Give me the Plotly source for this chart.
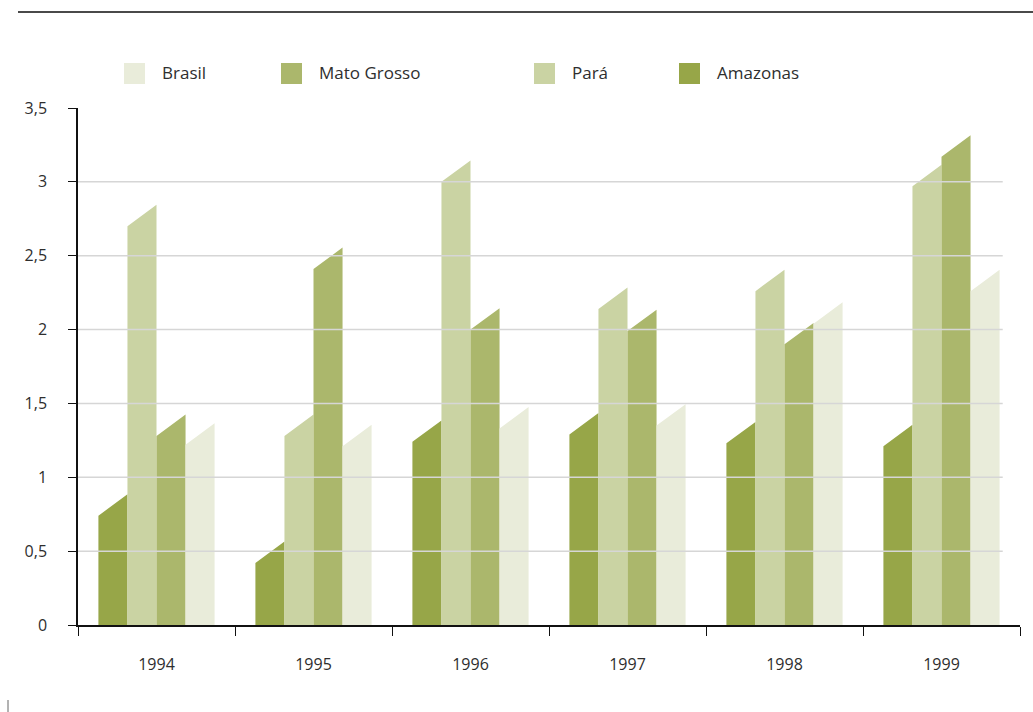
import plotly.graph_objects as go

# Annual values per state, 1994-1999
years = ["1994", "1995", "1996", "1997", "1998", "1999"]
amazonas = [0.74, 0.42, 1.24, 1.29, 1.23, 1.21]
para = [2.70, 1.28, 3.00, 2.14, 2.26, 2.97]
mato_grosso = [1.28, 2.41, 2.00, 1.99, 1.90, 3.17]
brasil = [1.22, 1.21, 1.33, 1.35, 2.04, 2.26]

y_ticks = [0, 0.5, 1, 1.5, 2, 2.5, 3, 3.5]
y_tick_text = ["0", "0,5", "1", "1,5", "2", "2,5", "3", "3,5"]

# Drawing order inside each year group (left to right)
series = [
    ("Amazonas", amazonas, "#97A648"),
    ("Pará", para, "#CAD3A3"),
    ("Mato Grosso", mato_grosso, "#ABB76C"),
    ("Brasil", brasil, "#E9ECDA"),
]
legend_order = ["Brasil", "Mato Grosso", "Pará", "Amazonas"]
colors = {name: c for name, _, c in series}

BAR_W = 0.185      # width of a single bar in category units
GROUP_START = -0.37  # left edge of the group relative to category centre
SLANT = 0.145      # rise of the bevelled top edge, in value units

W, H = 1033, 712
ML, MR, MT, MB = 78, 13, 108, 87
PW, PH = W - ML - MR, H - MT - MB


def px_x(px):
    return (px - ML) / PW


def px_y(py):
    return (H - MB - py) / PH


fig = go.Figure()

for i, (name, vals, color) in enumerate(series):
    xs, ys = [], []
    for j, v in enumerate(vals):
        x0 = j + GROUP_START + i * BAR_W
        x1 = x0 + BAR_W
        xs += [x0, x0, x1, x1, x0, None]
        ys += [0, v, v + SLANT, 0, 0, None]
    fig.add_trace(go.Scatter(
        x=xs, y=ys, mode="lines", fill="toself", fillcolor=color,
        line=dict(width=0, color=color), name=name, showlegend=False,
        hoverinfo="skip",
    ))

shapes = []
# Horizontal grid, drawn over the bars
for t in y_ticks[1:-1]:
    shapes.append(dict(type="line", xref="x", yref="y", x0=-0.5, x1=5.39,
                       y0=t, y1=t, layer="above",
                       line=dict(color="#D6D6D6", width=1.5)))

# Rule across the top of the figure
shapes.append(dict(type="line", xref="paper", yref="paper",
                   x0=px_x(18), x1=px_x(1033), y0=px_y(12), y1=px_y(12),
                   line=dict(color="#4A4A4A", width=2)))
# Small mark at the lower left
shapes.append(dict(type="line", xref="paper", yref="paper",
                   x0=px_x(8), x1=px_x(8), y0=px_y(700), y1=px_y(712),
                   line=dict(color="#666666", width=1)))

annotations = []
legend_px = {"Brasil": 124, "Mato Grosso": 281, "Pará": 534, "Amazonas": 679}
for name in legend_order:
    lx = legend_px[name]
    shapes.append(dict(type="rect", xref="paper", yref="paper",
                       x0=px_x(lx), x1=px_x(lx + 21),
                       y0=px_y(84), y1=px_y(63),
                       fillcolor=colors[name], line=dict(width=0)))
    annotations.append(dict(xref="paper", yref="paper", x=px_x(lx + 36),
                            y=px_y(73), text=name, showarrow=False,
                            xanchor="left", yanchor="middle",
                            font=dict(size=17, color="#2E2E2E")))

fig.update_layout(
    width=W, height=H,
    margin=dict(l=ML, r=MR, t=MT, b=MB, pad=0),
    paper_bgcolor="white", plot_bgcolor="white",
    font=dict(family="Open Sans, Noto Sans, sans-serif", size=16, color="#2E2E2E"),
    showlegend=False,
    shapes=shapes,
    annotations=annotations,
    xaxis=dict(
        range=[-0.5, 5.5], showgrid=False, zeroline=False,
        showline=True, linecolor="#111111", linewidth=1.5,
        tickmode="array", tickvals=list(range(len(years))), ticktext=years,
        ticks="", ticklabelstandoff=24,
        minor=dict(tickmode="array", tickvals=[k - 0.5 for k in range(len(years) + 1)],
                   ticks="outside", ticklen=9, tickcolor="#111111", tickwidth=1.2),
        fixedrange=True,
    ),
    yaxis=dict(
        range=[0, 3.5], showgrid=False, zeroline=False,
        showline=True, linecolor="#111111", linewidth=1.5,
        tickmode="array", tickvals=y_ticks, ticktext=y_tick_text,
        ticks="outside", ticklen=8, tickcolor="#111111", tickwidth=1.2,
        ticklabelstandoff=18,
        fixedrange=True,
    ),
)

fig.write_html("out.html")
